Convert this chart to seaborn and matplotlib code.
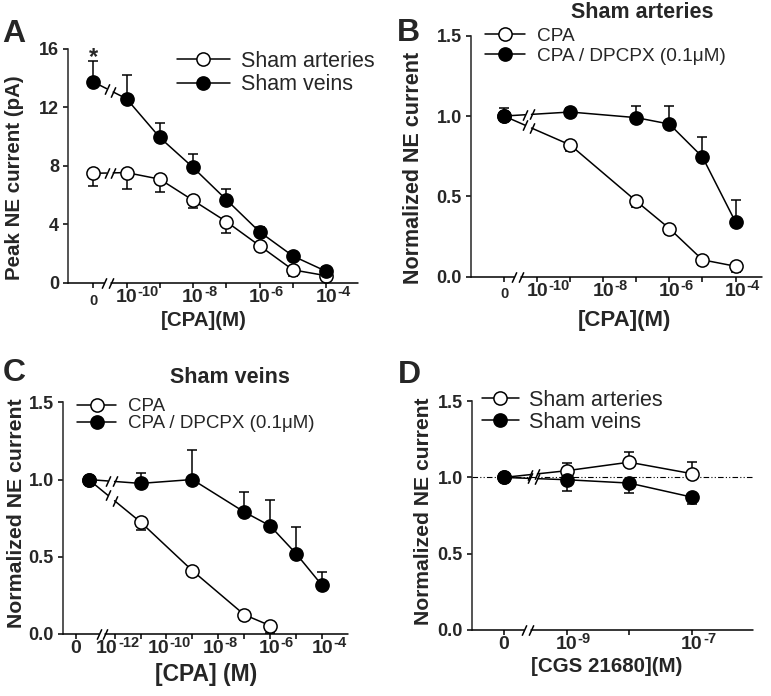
import numpy as np
import matplotlib
matplotlib.use("Agg")
import matplotlib.pyplot as plt
from matplotlib.lines import Line2D
from matplotlib.transforms import ScaledTranslation
import seaborn as sns

# ---- data ----
# A: peak NE current (pA) vs [CPA]
a_conc = [0, 1e-10, 1e-9, 1e-8, 1e-7, 1e-6, 1e-5, 1e-4]
a_art = [7.5, 7.55, 7.1, 5.65, 4.2, 2.55, 0.9, 0.5]
a_art_sem = [0.85, 1.15, 0.85, 0.5, 0.75, 0.3, 0.4, 0.25]
a_vein = [13.75, 12.6, 9.95, 7.9, 5.7, 3.5, 1.85, 0.8]
a_vein_sem = [1.4, 1.6, 1.0, 0.9, 0.7, 0.3, 0.3, 0.3]

# B: sham arteries, normalized
b_conc = [0, 1e-9, 1e-7, 1e-6, 1e-5, 1e-4]
b_cpa = [1.0, 0.82, 0.47, 0.30, 0.105, 0.065]
b_cpa_sem = [0.0, 0.035, 0.035, 0.035, 0.03, 0.035]
b_dpcpx = [1.0, 1.025, 0.99, 0.95, 0.745, 0.34]
b_dpcpx_sem = [0.05, 0.025, 0.075, 0.11, 0.125, 0.14]

# C: sham veins, normalized
c_conc_cpa = [0, 1e-11, 1e-9, 1e-7, 1e-6]
c_cpa = [1.0, 0.725, 0.41, 0.125, 0.054]
c_cpa_sem = [0.0, 0.05, 0.03, 0.035, 0.045]
c_conc_dpcpx = [0, 1e-11, 1e-9, 1e-7, 1e-6, 1e-5, 1e-4]
c_dpcpx = [1.0, 0.975, 1.0, 0.79, 0.70, 0.52, 0.315]
c_dpcpx_sem = [0.0, 0.07, 0.19, 0.13, 0.17, 0.17, 0.085]

# D: CGS 21680
d_conc = [0, 1e-9, 1e-8, 1e-7]
d_art = [1.0, 1.044, 1.10, 1.025]
d_art_sem = [0.0, 0.05, 0.065, 0.075]
d_vein = [1.0, 0.985, 0.963, 0.871]
d_vein_sem = [0.0, 0.072, 0.065, 0.046]

# ---- style ----
sns.set_style("ticks")
plt.rcParams['font.family'] = ['Liberation Sans', 'DejaVu Sans']

W, H = 771, 696
fig = plt.figure(figsize=(W / 100, H / 100), dpi=100)

LW = 1.1
SLASH = [(-0.45, -1), (0.45, 1)]


def add_axes(l, t, r, b):
    return fig.add_axes([l / W, 1 - b / H, (r - l) / W, (b - t) / H])


def positions(conc, zero):
    return np.array([zero if c == 0 else np.log10(c) for c in conc])


def offset(dx, dy):
    # offset in pixels (figure is drawn at 100 dpi)
    return ScaledTranslation(dx / 100, dy / 100, fig.dpi_scale_trans)


def series(ax, x, y, sem, filled, err_up, brk, gap):
    y = np.asarray(y, float)
    sem = np.asarray(sem, float)
    fc = 'black' if filled else 'white'
    z = 4 if filled else 3
    zero = np.zeros_like(sem)
    yerr = [zero, sem] if err_up else [sem, zero]
    ax.errorbar(x, y, yerr=yerr, fmt='none', ecolor='black', elinewidth=LW,
                capsize=3.8, capthick=LW, zorder=z - 0.6)
    mk = dict(marker='o', markersize=9.5, markerfacecolor=fc,
              markeredgecolor='black', markeredgewidth=LW)
    sns.lineplot(x=x[1:], y=y[1:], ax=ax, color='black', lw=LW, errorbar=None,
                 sort=False, zorder=z, **mk)
    ax.plot(x[:1], y[:1], ls='none', color='black', zorder=z, **mk)
    # broken first segment
    x0, x1, y0, y1 = x[0], x[1], y[0], y[1]
    xa, xb = brk - gap, brk + gap
    ya = y0 + (y1 - y0) * (xa - x0) / (x1 - x0)
    yb = y0 + (y1 - y0) * (xb - x0) / (x1 - x0)
    ax.plot([x0, xa], [y0, ya], color='black', lw=LW, zorder=z - 0.5)
    ax.plot([xb, x1], [yb, y1], color='black', lw=LW, zorder=z - 0.5)
    ax.plot([xa, xb], [ya, yb], ls='none', marker=SLASH, ms=7.5, mew=LW,
            color='black', zorder=z - 0.5)


def xbreak(ax, brk, gap):
    tr = ax.get_xaxis_transform()
    lo, hi = ax.get_xlim()
    kw = dict(transform=tr, color='black', lw=LW, clip_on=False, zorder=5)
    ax.plot([lo, brk - gap], [0, 0], **kw)
    ax.plot([brk + gap, hi], [0, 0], **kw)
    ax.plot([brk - gap, brk + gap], [0, 0], ls='none', marker=SLASH, ms=7.5,
            mew=LW, **kw)


def style_axes(ax, xlim, ylim, yticks, ylabels, major, exps, minor, zero_size,
               shifts=None, xsize=14, esize=10.5):
    ax.set_xlim(*xlim)
    ax.set_ylim(*ylim)
    sns.despine(ax=ax)
    ax.spines['bottom'].set_visible(False)
    ax.spines['left'].set_linewidth(LW)
    ax.tick_params(which='both', direction='out', length=3.5, width=LW,
                   color='black')
    ax.tick_params(axis='x', pad=1.0, labelsize=xsize)
    ax.tick_params(axis='y', pad=3, labelsize=13)
    ax.set_yticks(yticks)
    ax.set_yticklabels(ylabels, fontweight='bold', fontsize=13)
    ax.set_xticks(major)
    ax.set_xticklabels(['0' if e is None else '10' for e in exps],
                       fontsize=xsize, fontweight='bold')
    ax.set_xticks(minor, minor=True)
    shifts = shifts or [0] * len(major)
    half = 1.112 * xsize / 72 * 100 / 2
    for lab, e, s, x in zip(ax.get_xticklabels(), exps, shifts, major):
        if e is None:
            lab.set_fontsize(zero_size)
            dy = 0.905 * (xsize - zero_size) / 72 * 100
            lab.set_transform(lab.get_transform() + offset(s, -dy))
        else:
            # "10" is the tick label, the exponent sits at its upper right
            lab.set_transform(lab.get_transform() + offset(s, 0))
            ax.text(x, 0, e, transform=ax.get_xaxis_transform() + offset(s + half + 0.5, -2.2),
                    ha='left', va='top', fontsize=esize, fontweight='bold')
    ax.grid(False)


def legend(ax, labels, x, top, size, hl, pad, ls):
    handles = [Line2D([], [], color='black', lw=LW, marker='o', markersize=9.5,
                      markerfacecolor='white', markeredgecolor='black',
                      markeredgewidth=LW),
               Line2D([], [], color='black', lw=LW, marker='o', markersize=9.5,
                      markerfacecolor='black', markeredgecolor='black',
                      markeredgewidth=LW)]
    ax.legend(handles, labels, loc='upper left', bbox_to_anchor=(x / W, 1 - top / H),
              bbox_transform=fig.transFigure, frameon=False, borderpad=0,
              borderaxespad=0, handlelength=hl, handletextpad=pad,
              labelspacing=ls, fontsize=size, numpoints=1)


# ---- panel A ----
axA = add_axes(68, 49, 358, 283)
xa_pos = positions(a_conc, -11)
series(axA, xa_pos, a_art, a_art_sem, False, False, -10.5, 0.1)
series(axA, xa_pos, a_vein, a_vein_sem, True, True, -10.5, 0.1)
style_axes(axA, (-11.76, -3.04), (0, 16), [0, 4, 8, 12, 16],
           ['0', '4', '8', '12', '16'],
           [-11, -10, -8, -6, -4], [None, '-10', '-8', '-6', '-4'],
           [-9, -7, -5], 10.5)
xbreak(axA, -10.58, 0.1)
axA.text(-11, 15.0, '*', ha='center', va='baseline', fontsize=17, fontweight='bold')
axA.set_ylabel('Peak NE current (pA)', fontsize=14.8, fontweight='bold')
axA.yaxis.set_label_coords(-0.152, 0.449)
axA.set_xlabel('[CPA](M)', fontsize=14.8, fontweight='bold')
axA.xaxis.set_label_coords(0.469, -0.118)
legend(axA, ['Sham arteries', 'Sham veins'], 177, 51, 15.5, 2.45, 0.5, 0.1)

# ---- panel B ----
axB = add_axes(471, 35.7, 762, 276.7)
xb_pos = positions(b_conc, -11)
series(axB, xb_pos, b_cpa, b_cpa_sem, False, False, -10.27, 0.1)
series(axB, xb_pos, b_dpcpx, b_dpcpx_sem, True, True, -10.27, 0.1)
style_axes(axB, (-12.0, -3.2), (0, 1.5), [0, 0.5, 1.0, 1.5],
           ['0.0', '0.5', '1.0', '1.5'],
           [-11, -10, -8, -6, -4], [None, '-10', '-8', '-6', '-4'],
           [-9, -7, -5], 10.5)
xbreak(axB, -10.6, 0.1)
axB.set_ylabel('Normalized NE current', fontsize=15.5, fontweight='bold')
axB.yaxis.set_label_coords(-0.161, 0.451)
axB.set_xlabel('[CPA](M)', fontsize=16, fontweight='bold')
axB.xaxis.set_label_coords(0.526, -0.140)
legend(axB, ['CPA', 'CPA / DPCPX (0.1μM)'], 485, 27.4, 13.7, 2.1, 0.63, 0.15)

# ---- panel C ----
axC = add_axes(62.7, 402.3, 348, 634)
series(axC, positions(c_conc_cpa, -13), c_cpa, c_cpa_sem, False, False, -12.13, 0.13)
series(axC, positions(c_conc_dpcpx, -13), c_dpcpx, c_dpcpx_sem, True, True, -12.13, 0.13)
style_axes(axC, (-14.0, -3.0), (0, 1.5), [0, 0.5, 1.0, 1.5],
           ['0.0', '0.5', '1.0', '1.5'],
           [-13.5, -12, -10, -8, -6, -4], [None, '-12', '-10', '-8', '-6', '-4'],
           [-11, -9, -7, -5], 14, shifts=[0, -8, -8, -5, -1, 0])
xbreak(axC, -12.48, 0.13)
axC.set_ylabel('Normalized NE current', fontsize=15.3, fontweight='bold')
axC.yaxis.set_label_coords(-0.127, 0.522)
axC.set_xlabel('[CPA] (M)', fontsize=16.5, fontweight='bold')
axC.xaxis.set_label_coords(0.502, -0.127)
legend(axC, ['CPA', 'CPA / DPCPX (0.1μM)'], 77, 398, 13.5, 2.1, 0.63, 0.0)

# ---- panel D ----
axD = add_axes(472, 401.3, 753, 629.7)
axD.axhline(1.0, color='black', lw=0.8, ls=(0, (5, 2, 1, 2, 1, 2)), zorder=1)
xd_pos = positions(d_conc, -10)
series(axD, xd_pos, d_art, d_art_sem, False, True, -9.52, 0.056)
series(axD, xd_pos, d_vein, d_vein_sem, True, False, -9.52, 0.056)
style_axes(axD, (-10.51, -6.02), (0, 1.5), [0, 0.5, 1.0, 1.5],
           ['0.0', '0.5', '1.0', '1.5'],
           [-10, -9, -7], [None, '-9', '-7'], [-8], 14)
xbreak(axD, -9.63, 0.056)
axD.set_ylabel('Normalized NE current', fontsize=15.2, fontweight='bold')
axD.yaxis.set_label_coords(-0.140, 0.518)
axD.set_xlabel('[CGS 21680](M)', fontsize=14.8, fontweight='bold')
axD.xaxis.set_label_coords(0.480, -0.120)
legend(axD, ['Sham arteries', 'Sham veins'], 482, 389.5, 15.5, 1.7, 0.47, 0.05)

# ---- panel letters and titles ----
for letter, x, y in [('A', 2, 42), ('B', 397, 41), ('C', 3, 381), ('D', 398, 383)]:
    fig.text(x / W, 1 - y / H, letter, fontsize=23, fontweight='bold',
             ha='left', va='baseline')
fig.text(642 / W, 1 - 18 / H, 'Sham arteries', fontsize=15.5, fontweight='bold',
         ha='center', va='baseline')
fig.text(230 / W, 1 - 383 / H, 'Sham veins', fontsize=15.5, fontweight='bold',
         ha='center', va='baseline')

fig.savefig('out.png', dpi=100, facecolor='white')
